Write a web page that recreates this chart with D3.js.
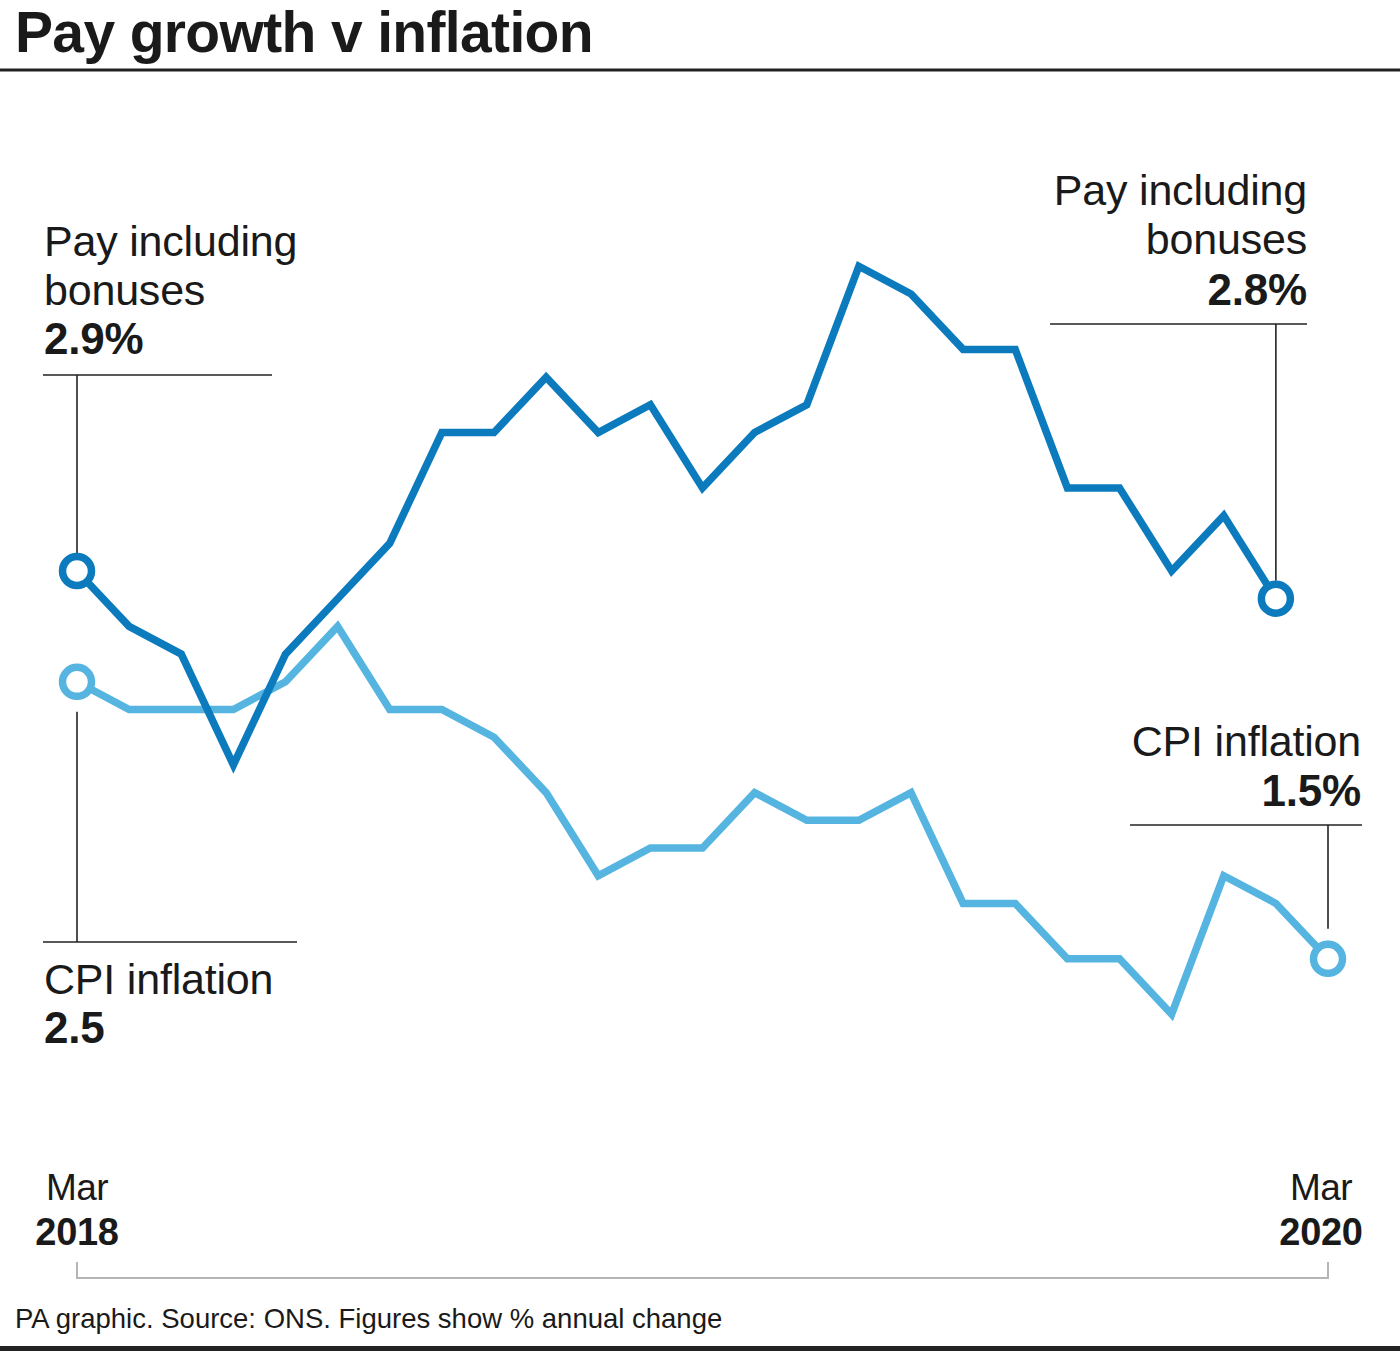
<!DOCTYPE html>
<html>
<head>
<meta charset="utf-8">
<script src="https://cdn.jsdelivr.net/npm/d3@7"></script>
<style>
  html, body { margin: 0; padding: 0; background: #fff; }
  svg { display: block; }
  text { font-family: "Liberation Sans", Arial, sans-serif; fill: #1a1a1a; }
</style>
</head>
<body>
<svg id="chart" width="1400" height="1351"></svg>
<script>
// ---- Data ----
const months = ["Mar 2018","Apr 2018","May 2018","Jun 2018","Jul 2018","Aug 2018","Sep 2018","Oct 2018","Nov 2018","Dec 2018",
  "Jan 2019","Feb 2019","Mar 2019","Apr 2019","May 2019","Jun 2019","Jul 2019","Aug 2019","Sep 2019","Oct 2019","Nov 2019","Dec 2019",
  "Jan 2020","Feb 2020","Mar 2020"];
const payValues = [2.9, 2.7, 2.6, 2.2, 2.6, 2.8, 3.0, 3.4, 3.4, 3.6, 3.4, 3.5, 3.2, 3.4, 3.5, 4.0, 3.9, 3.7, 3.7, 3.2, 3.2, 2.9, 3.1, 2.8];
const cpiValues = [2.5, 2.4, 2.4, 2.4, 2.5, 2.7, 2.4, 2.4, 2.3, 2.1, 1.8, 1.9, 1.9, 2.1, 2.0, 2.0, 2.1, 1.7, 1.7, 1.5, 1.5, 1.3, 1.8, 1.7, 1.5];
const axisLabels = [{month: "Mar", year: "2018", i: 0}, {month: "Mar", year: "2020", i: 24}];
const title = "Pay growth v inflation";
const footer = "PA graphic. Source: ONS. Figures show % annual change";
const payColor = "#0c7bbd";
const cpiColor = "#55b5e0";

// ---- Scales ----
const svg = d3.select("#chart");
const x = d3.scaleLinear().domain([0, months.length - 1]).range([77, 1328]);
const y = d3.scaleLinear().domain([1.3, 4.0]).range([1014.2, 266.3]);

// ---- Title ----
svg.append("text").attr("x", 15).attr("y", 52)
  .attr("font-size", 57).attr("font-weight", "bold").attr("letter-spacing", -0.65)
  .text(title);
svg.append("line").attr("x1", 0).attr("x2", 1400).attr("y1", 70).attr("y2", 70)
  .attr("stroke", "#222").attr("stroke-width", 3);

// ---- Annotation leader lines ----
const lead = svg.append("g").attr("stroke", "#222").attr("stroke-width", 1.6).attr("fill", "none");
// left pay
lead.append("line").attr("x1", 43).attr("x2", 272).attr("y1", 375).attr("y2", 375);
lead.append("line").attr("x1", x(0)).attr("x2", x(0)).attr("y1", 375).attr("y2", y(payValues[0]) - 18);
// right pay
const pLast = payValues.length - 1;
lead.append("line").attr("x1", 1050).attr("x2", 1307).attr("y1", 324).attr("y2", 324);
lead.append("line").attr("x1", x(pLast)).attr("x2", x(pLast)).attr("y1", 324).attr("y2", y(payValues[pLast]) - 18);
// left cpi
lead.append("line").attr("x1", 43).attr("x2", 297).attr("y1", 942).attr("y2", 942);
lead.append("line").attr("x1", x(0)).attr("x2", x(0)).attr("y1", y(cpiValues[0]) + 30).attr("y2", 942);
// right cpi
const cLast = cpiValues.length - 1;
lead.append("line").attr("x1", 1130).attr("x2", 1362).attr("y1", 825).attr("y2", 825);
lead.append("line").attr("x1", x(cLast)).attr("x2", x(cLast)).attr("y1", 825).attr("y2", y(cpiValues[cLast]) - 30);

// ---- Lines ----
const line = d3.line().x((d, i) => x(i)).y(d => y(d));
svg.append("path").datum(cpiValues).attr("d", line)
  .attr("fill", "none").attr("stroke", cpiColor).attr("stroke-width", 7.5).attr("stroke-linejoin", "miter");
svg.append("path").datum(payValues).attr("d", line)
  .attr("fill", "none").attr("stroke", payColor).attr("stroke-width", 7.5).attr("stroke-linejoin", "miter");

// end circles
const ends = [
  {i: 0, v: cpiValues[0], c: cpiColor},
  {i: cLast, v: cpiValues[cLast], c: cpiColor},
  {i: 0, v: payValues[0], c: payColor},
  {i: pLast, v: payValues[pLast], c: payColor}
];
svg.selectAll("circle.end").data(ends).join("circle").attr("class", "end")
  .attr("cx", d => x(d.i)).attr("cy", d => y(d.v)).attr("r", 14.5)
  .attr("fill", "#fff").attr("stroke", d => d.c).attr("stroke-width", 7.5);

// ---- Annotation text ----
function label(xp, lines, anchor) {
  lines.forEach(l => {
    svg.append("text").attr("x", xp).attr("y", l.y).attr("text-anchor", anchor)
      .attr("font-size", l.bold ? 44 : 43).attr("font-weight", l.bold ? "bold" : "normal")
      .attr("letter-spacing", -0.2)
      .text(l.t);
  });
}
label(44, [{t: "Pay including", y: 256}, {t: "bonuses", y: 305}, {t: payValues[0].toFixed(1) + "%", y: 354, bold: true}], "start");
label(1307, [{t: "Pay including", y: 205}, {t: "bonuses", y: 254}, {t: payValues[pLast].toFixed(1) + "%", y: 305, bold: true}], "end");
label(44, [{t: "CPI inflation", y: 994}, {t: cpiValues[0].toFixed(1), y: 1043, bold: true}], "start");
label(1361, [{t: "CPI inflation", y: 756}, {t: cpiValues[cLast].toFixed(1) + "%", y: 806, bold: true}], "end");

// ---- Bottom axis ----
axisLabels.forEach((a, k) => {
  const cx = x(a.i) + (k === 0 ? 0 : -7);
  svg.append("text").attr("x", cx).attr("y", 1200).attr("text-anchor", "middle")
    .attr("font-size", 37).attr("letter-spacing", -0.5).text(a.month);
  svg.append("text").attr("x", cx).attr("y", 1245).attr("text-anchor", "middle")
    .attr("font-size", 38).attr("font-weight", "bold").attr("letter-spacing", -0.3).text(a.year);
});
svg.append("path")
  .attr("d", `M${x(0)},1262 V1278 H${x(months.length - 1)} V1262`)
  .attr("fill", "none").attr("stroke", "#b5b5b5").attr("stroke-width", 2);

// ---- Footer ----
svg.append("text").attr("x", 15).attr("y", 1328).attr("font-size", 27.5).text(footer);
svg.append("rect").attr("x", 0).attr("y", 1346).attr("width", 1400).attr("height", 5).attr("fill", "#222");
</script>
</body>
</html>
